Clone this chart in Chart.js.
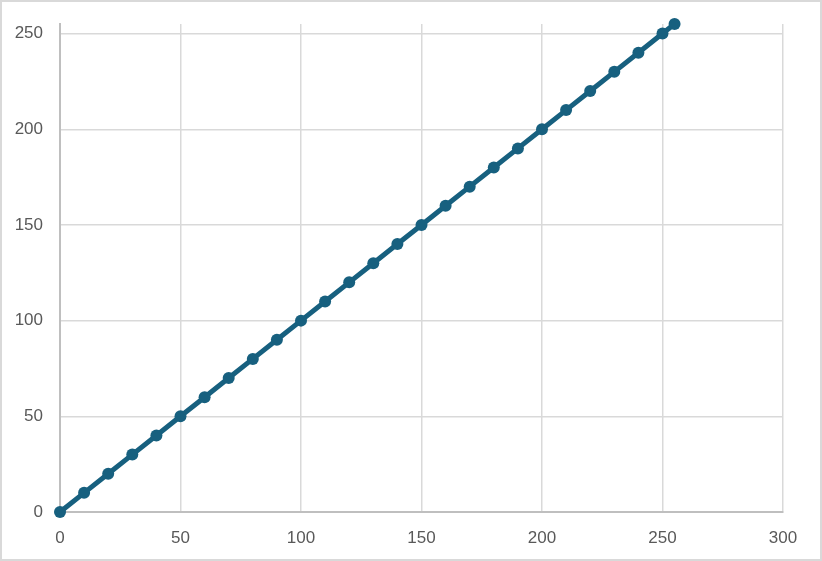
<!DOCTYPE html>
<html>
<head>
<meta charset="utf-8">
<script src="https://cdn.jsdelivr.net/npm/chart.js@4.4.0/dist/chart.umd.min.js"></script>
<style>
    html, body { margin: 0; padding: 0; background: #fff; }
    #wrap {
        position: absolute; left: 0; top: 0;
        width: 822px; height: 561px;
        box-sizing: border-box;
        border: 2px solid #d9d9d9;
        background: #fff;
    }
    canvas { display: block; }
</style>
</head>
<body>
<div id="wrap"><canvas id="lineChart" width="818" height="557"></canvas></div>
<script>
// values
const xValues = [0, 10, 20, 30, 40, 50, 60, 70, 80, 90, 100, 110, 120, 130, 140, 150, 160, 170, 180, 190, 200, 210, 220, 230, 240, 250, 255];
const yValues = [0, 10, 20, 30, 40, 50, 60, 70, 80, 90, 100, 110, 120, 130, 140, 150, 160, 170, 180, 190, 200, 210, 220, 230, 240, 250, 255];
const xTicks = [0, 50, 100, 150, 200, 250, 300];
const yTicks = [0, 50, 100, 150, 200, 250];

const points = xValues.map((x, i) => ({ x: x, y: yValues[i] }));
const lineColor = "#17607f";

new Chart("lineChart", {
    type: "scatter",
    data: {
        datasets: [{
            data: points,
            showLine: true,
            borderColor: lineColor,
            backgroundColor: lineColor,
            borderWidth: 5,
            pointRadius: 6,
            pointBorderWidth: 0,
            pointHoverRadius: 6,
            clip: false,
        }]
    },
    options: {
        responsive: false,
        animation: false,
        layout: { padding: { top: 22, right: 37, left: 0, bottom: 0 } },
        plugins: {
            legend: { display: false },
            tooltip: { enabled: false },
        },
        scales: {
            x: {
                type: "linear",
                min: xTicks[0],
                max: xTicks[xTicks.length - 1],
                afterFit: (scale) => {
                    scale.height = 47;
                    scale.paddingLeft = 0;
                    scale.paddingRight = 0;
                },
                afterBuildTicks: (scale) => { scale.ticks = xTicks.map(v => ({ value: v })); },
                ticks: {
                    color: "#595959",
                    font: { family: "'Liberation Sans', Arial, sans-serif", size: 17 },
                    padding: 16,
                },
                grid: { color: "#d9d9d9", lineWidth: 1.5, drawTicks: false },
                border: { color: "#bfbfbf", width: 2 },
            },
            y: {
                type: "linear",
                min: 0,
                max: 255,
                afterFit: (scale) => {
                    scale.width = 58;
                    scale.paddingTop = 0;
                    scale.paddingBottom = 0;
                },
                afterBuildTicks: (scale) => { scale.ticks = yTicks.map(v => ({ value: v })); },
                ticks: {
                    color: "#595959",
                    font: { family: "'Liberation Sans', Arial, sans-serif", size: 17 },
                    padding: 17,
                },
                grid: { color: "#d9d9d9", lineWidth: 1.5, drawTicks: false },
                border: { color: "#bfbfbf", width: 2 },
            }
        }
    }
});
</script>
</body>
</html>
